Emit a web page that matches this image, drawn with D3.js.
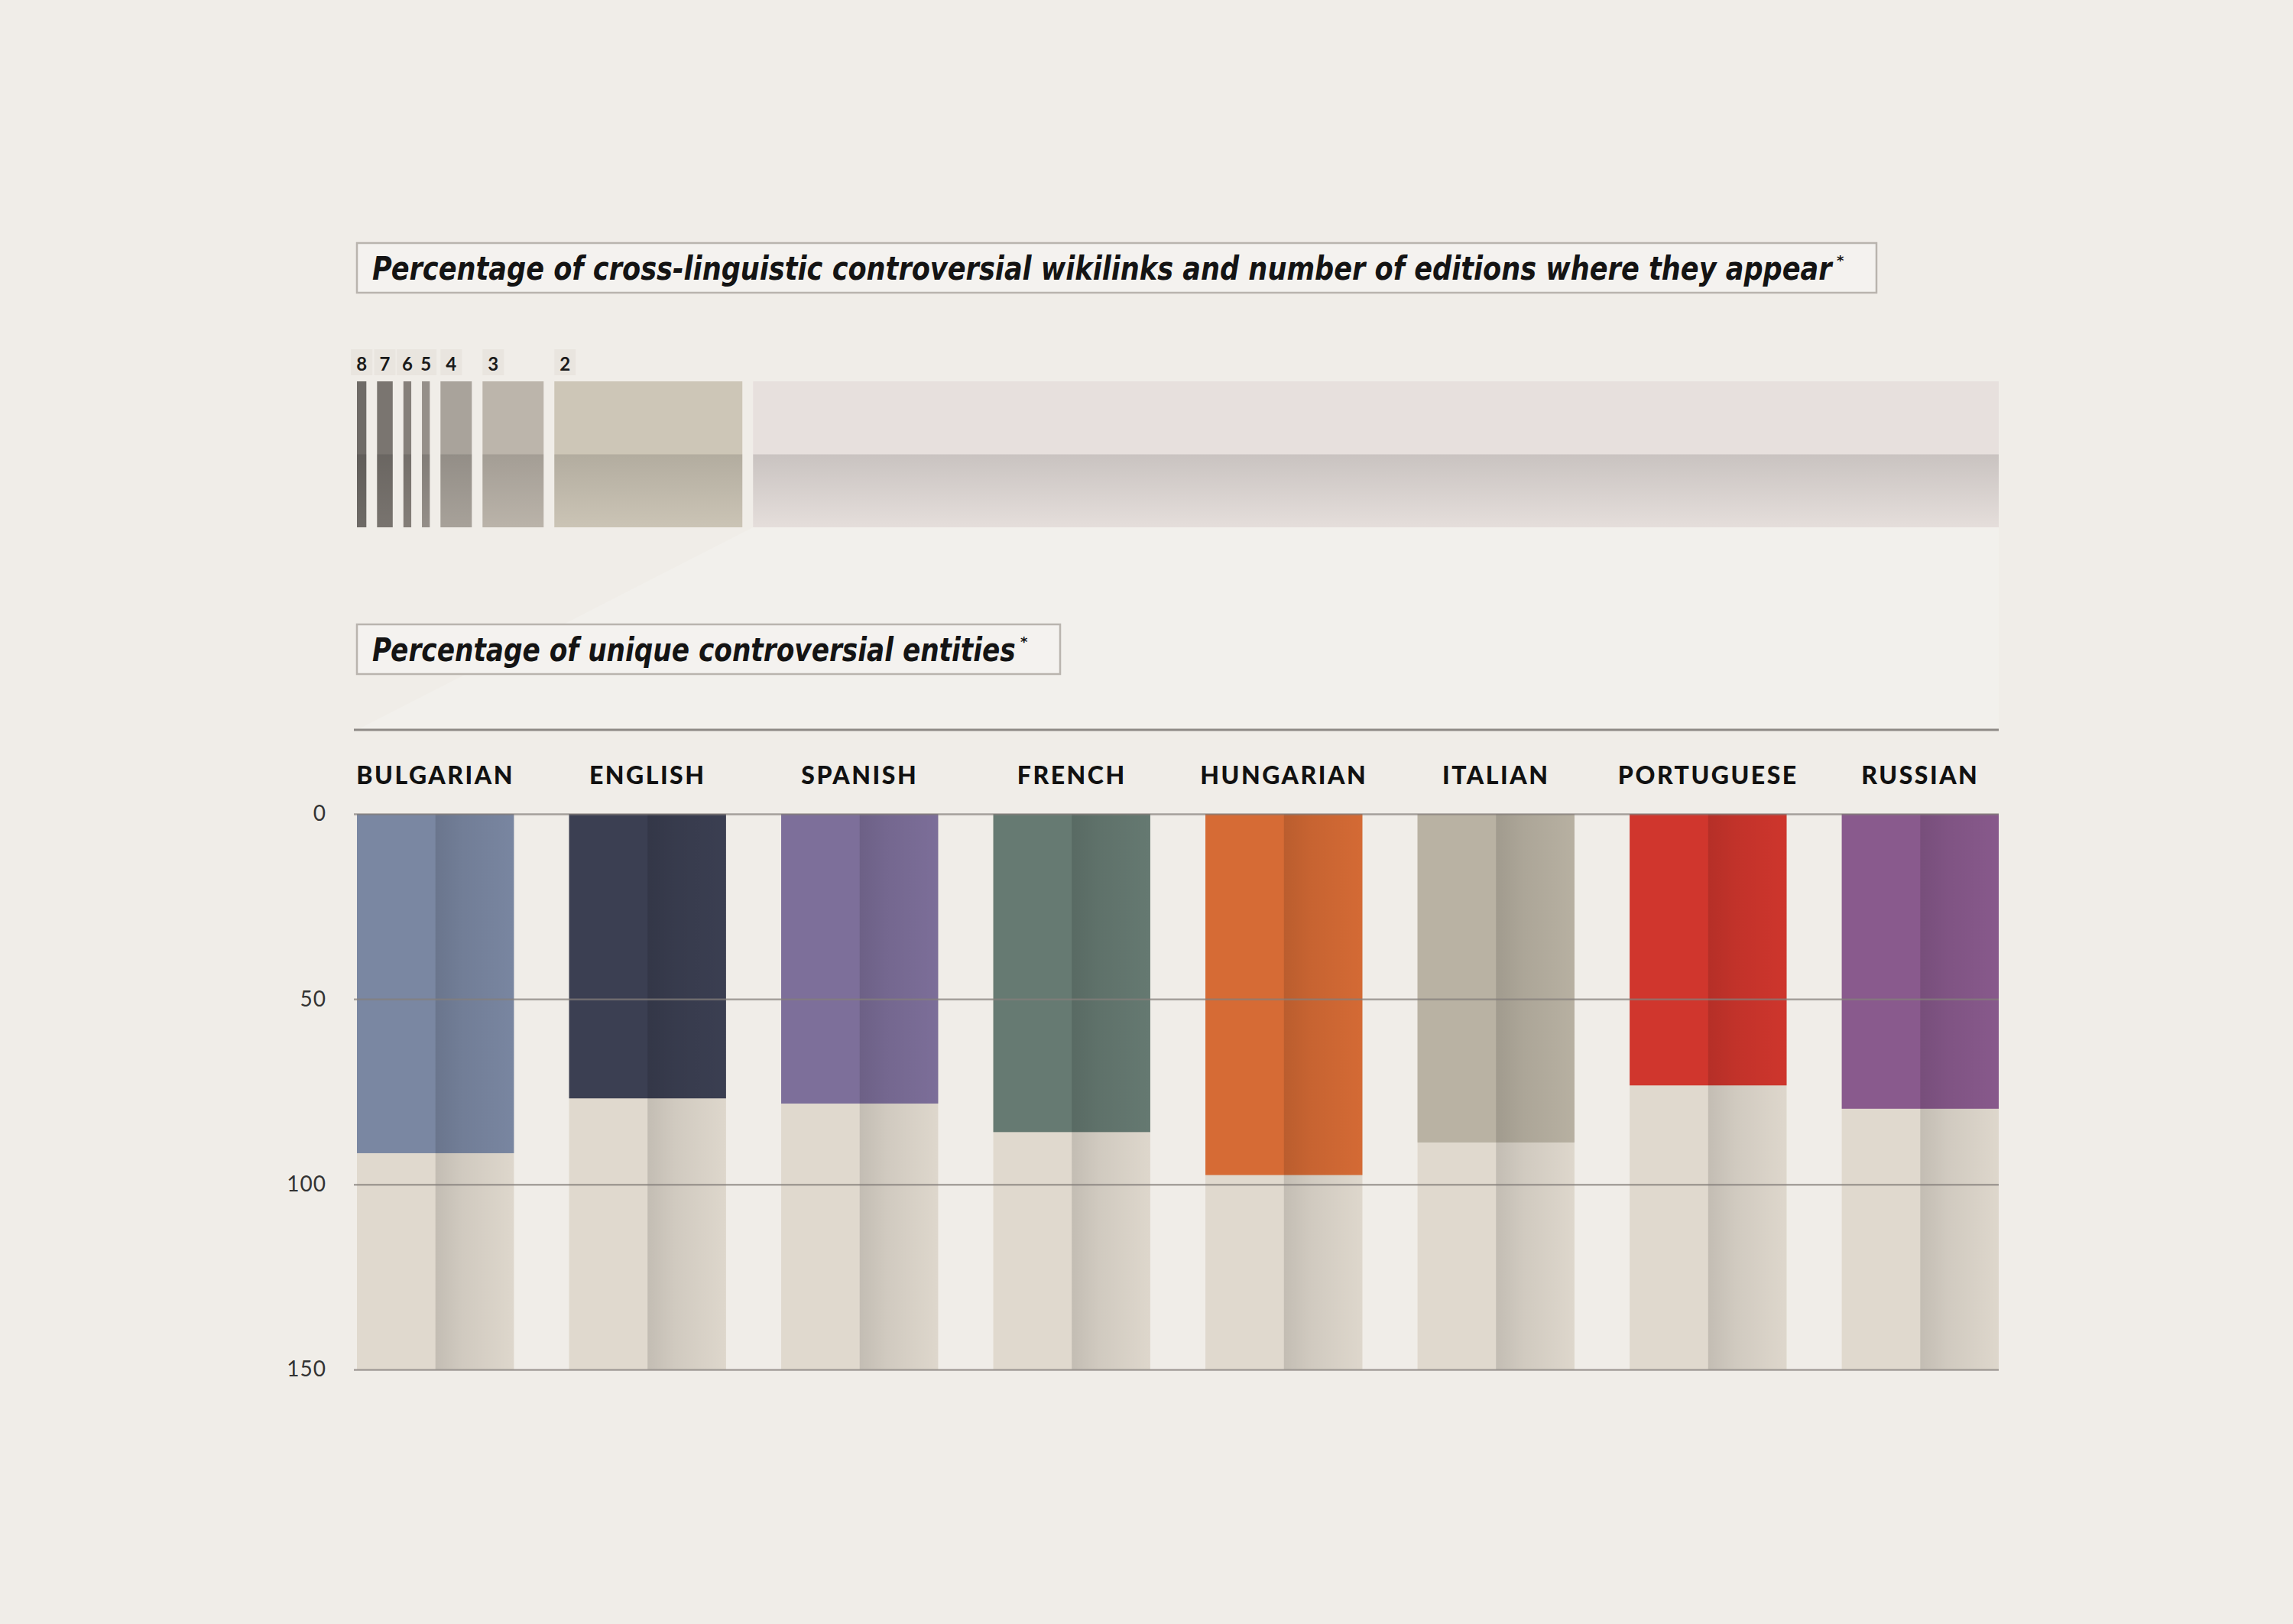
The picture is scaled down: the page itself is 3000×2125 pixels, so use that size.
<!DOCTYPE html>
<html>
<head>
<meta charset="utf-8">
<script src="https://cdn.jsdelivr.net/npm/d3@7"></script>
<style>
  body { margin: 0; background: #f0ede8; }
  svg { display: block; }
</style>
</head>
<body>
<div id="main"></div>
<script>
// editions strip : share of cross-linguistic wikilinks by number of editions
const editionLabels = ["8", "7", "6", "5", "4", "3", "2", ""];
const editionShares = [0.6, 1.0, 0.5, 0.5, 2.0, 3.9, 12.0, 79.5];

// unique controversial entities per language edition
const languages = ["BULGARIAN", "ENGLISH", "SPANISH", "FRENCH", "HUNGARIAN", "ITALIAN", "PORTUGUESE", "RUSSIAN"];
const uniqueShares = [91.6, 76.8, 78.2, 85.9, 97.5, 88.7, 73.3, 79.6];
const yTicks = [0, 50, 100, 150];

// palettes
const editionColors = ["#6f6b67", "#7a7570", "#857f79", "#958f89", "#a9a39b", "#bcb5ab", "#cdc6b7", "#e7e0dd"];
const languageColors = ["#7a87a2", "#3b3f52", "#7d6f9a", "#667a72", "#d66b35", "#b9b2a3", "#d0362d", "#895a8d"];

const ctx = {
    width: 3000,
    height: 2125,
    left: 467,
    right: 2615,
    strip: {top: 499, bottom: 690, gap: 14},
    chart: {top: 1065, bottom: 1792},
    bg: "#f0ede8"
};

function addGradients(svg) {
    const defs = svg.append("defs");
    // right half shading of the bars
    const h = defs.append("linearGradient").attr("id", "shadeH")
        .attr("x1", 0).attr("x2", 1).attr("y1", 0).attr("y2", 0);
    h.append("stop").attr("offset", "0%").attr("stop-color", "#000").attr("stop-opacity", 0.13);
    h.append("stop").attr("offset", "35%").attr("stop-color", "#000").attr("stop-opacity", 0.07);
    h.append("stop").attr("offset", "100%").attr("stop-color", "#000").attr("stop-opacity", 0.01);
    // lower half shading of the strip
    const v = defs.append("linearGradient").attr("id", "shadeV")
        .attr("x1", 0).attr("x2", 0).attr("y1", 0).attr("y2", 1);
    v.append("stop").attr("offset", "0%").attr("stop-color", "#000").attr("stop-opacity", 0.13);
    v.append("stop").attr("offset", "100%").attr("stop-color", "#000").attr("stop-opacity", 0.01);
}

function titleBox(svg, x, y, w, h, text, textW) {
    const g = svg.append("g").attr("transform", `translate(${x},${y})`);
    g.append("rect")
        .attr("width", w).attr("height", h)
        .attr("fill", "#f4f2ef")
        .attr("stroke", "#b9b4ae")
        .attr("stroke-width", 2.5);
    const t = g.append("text")
        .style("font-family", "'DejaVu Sans Condensed', 'DejaVu Sans', sans-serif")
        .style("font-weight", "bold")
        .style("font-style", "italic")
        .style("font-size", "42px")
        .style("fill", "#141414")
        .text(text);
    // squeeze horizontally to the condensed width of the original
    const len = t.node().getComputedTextLength();
    t.attr("transform", `translate(20,${h / 2 + 15}) scale(${textW / len},1)`);
    // footnote mark
    g.append("text")
        .attr("x", 20 + textW + 6)
        .attr("y", h / 2 - 4)
        .style("font-family", "'DejaVu Sans', sans-serif")
        .style("font-weight", "bold")
        .style("font-size", "18px")
        .style("fill", "#141414")
        .text("*");
}

function drawStrip(svg) {
    const s = ctx.strip;
    const n = editionShares.length;
    const x = d3.scaleLinear()
        .domain([0, d3.sum(editionShares)])
        .range([0, ctx.right - ctx.left - s.gap * (n - 1)]);
    const starts = editionShares.map((d, i) =>
        ctx.left + x(d3.sum(editionShares.slice(0, i))) + i * s.gap);
    const mid = (s.top + s.bottom) / 2;

    // projection of the single edition share down to the chart
    const restX = starts[n - 1];
    svg.append("path")
        .attr("d", d3.line()([[restX, s.bottom], [ctx.right, s.bottom], [ctx.right, 955], [ctx.left, 955]]))
        .attr("fill", "#f2f0ec");

    const g = svg.append("g");
    const seg = g.selectAll(".seg")
        .data(editionShares)
        .enter()
        .append("g")
        .attr("class", "seg");
    seg.append("rect")
        .attr("x", (d, i) => starts[i])
        .attr("y", s.top)
        .attr("width", d => x(d))
        .attr("height", s.bottom - s.top)
        .attr("fill", (d, i) => editionColors[i]);
    seg.append("rect")
        .attr("x", (d, i) => starts[i])
        .attr("y", mid)
        .attr("width", d => x(d))
        .attr("height", s.bottom - mid)
        .attr("fill", "url(#shadeV)");

    // number of editions
    const lab = g.selectAll(".lab")
        .data(editionLabels.filter(d => d !== ""))
        .enter()
        .append("g")
        .attr("transform", (d, i) => `translate(${starts[i] + Math.min(x(editionShares[i]) / 2, 14)},0)`);
    lab.append("rect")
        .attr("x", -14).attr("y", 457)
        .attr("width", 28).attr("height", 34)
        .attr("fill", "#e9e5df");
    lab.append("text")
        .attr("text-anchor", "middle")
        .attr("y", 485)
        .style("font-family", "Lato, sans-serif")
        .style("font-weight", "bold")
        .style("font-size", "24px")
        .style("fill", "#1a1a1a")
        .text(d => d);
}

function drawBars(svg) {
    const x = d3.scaleBand()
        .domain(languages)
        .range([ctx.left, ctx.right])
        .paddingInner(0.26)
        .paddingOuter(0);
    const y = d3.scaleLinear()
        .domain([0, 150])
        .range([ctx.chart.top, ctx.chart.bottom]);
    const half = x.bandwidth() / 2;

    // separator line
    svg.append("line")
        .attr("x1", 463).attr("x2", ctx.right)
        .attr("y1", 955).attr("y2", 955)
        .attr("stroke", "#8e8a86")
        .attr("stroke-width", 3);

    svg.append("g").selectAll("text")
        .data(languages)
        .enter()
        .append("text")
        .attr("x", d => x(d) + half)
        .attr("y", 1026)
        .attr("text-anchor", "middle")
        .style("font-family", "Lato, sans-serif")
        .style("font-weight", "900")
        .style("font-size", "32px")
        .style("letter-spacing", "2.5px")
        .style("fill", "#111")
        .text(d => d);

    const bar = svg.append("g").selectAll(".bar")
        .data(languages)
        .enter()
        .append("g")
        .attr("class", "bar")
        .attr("transform", d => `translate(${x(d)},0)`);

    // background column up to 150
    bar.append("rect")
        .attr("y", y(0))
        .attr("width", x.bandwidth())
        .attr("height", y(150) - y(0))
        .attr("fill", "#e0d9ce");
    // coloured value
    bar.append("rect")
        .attr("y", y(0))
        .attr("width", x.bandwidth())
        .attr("height", (d, i) => y(uniqueShares[i]) - y(0))
        .attr("fill", (d, i) => languageColors[i]);
    // shaded right half
    bar.append("rect")
        .attr("x", half)
        .attr("y", y(0))
        .attr("width", half)
        .attr("height", y(150) - y(0))
        .attr("fill", "url(#shadeH)");

    const axis = svg.append("g")
        .attr("transform", "translate(463,0)")
        .call(d3.axisLeft(y)
            .tickValues(yTicks)
            .tickSizeInner(-(ctx.right - 463))
            .tickSizeOuter(0)
            .tickPadding(36));
    axis.select(".domain").remove();
    axis.selectAll(".tick line")
        .attr("stroke", "#857f7a")
        .attr("stroke-width", 2.5)
        .attr("opacity", 0.7);
    axis.selectAll(".tick text")
        .style("font-family", "Lato, sans-serif")
        .style("font-size", "28px")
        .style("letter-spacing", "1px")
        .style("fill", "#333");
}

function createViz() {
    const svg = d3.select("#main").append("svg")
        .attr("width", ctx.width)
        .attr("height", ctx.height);
    svg.append("rect")
        .attr("width", ctx.width).attr("height", ctx.height)
        .attr("fill", ctx.bg);
    addGradients(svg);

    titleBox(svg, 467, 318, 1988, 65,
        "Percentage of cross-linguistic controversial wikilinks and number of editions where they appear", 1910);
    drawStrip(svg);
    titleBox(svg, 467, 817, 920, 65, "Percentage of unique controversial entities", 842);
    drawBars(svg);
}

createViz();
</script>
</body>
</html>
